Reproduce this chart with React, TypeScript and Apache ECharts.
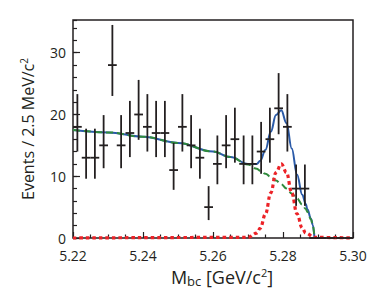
import React, { useEffect, useRef } from "react";
import * as echarts from "echarts";

// Bin centers (Mbc, GeV/c^2), bin width 2.5 MeV
const binCenters = [
  5.22125, 5.22375, 5.22625, 5.22875, 5.23125, 5.23375, 5.23625, 5.23875,
  5.24125, 5.24375, 5.24625, 5.24875, 5.25125, 5.25375, 5.25625, 5.25875,
  5.26125, 5.26375, 5.26625, 5.26875, 5.27125, 5.27375, 5.27625, 5.27875,
  5.28125, 5.28375, 5.28625, 5.28875, 5.29125, 5.29375, 5.29625, 5.29875,
];
const counts = [
  18, 13, 13, 15, 28, 15, 17, 20, 18, 17, 17, 11, 18, 15, 13, 5,
  12, 15, 16, 12, 12, 14, 16, 21, 18, 8, 8, 0, 0, 0, 0, 0,
];
const errLow = [
  14.0, 9.6, 9.6, 11.3, 23.0, 11.3, 13.1, 15.9, 14.0, 13.1, 13.1, 7.8, 14.0, 11.3, 9.6, 2.9,
  8.7, 11.3, 12.2, 8.7, 8.7, 10.4, 12.2, 16.8, 14.0, 5.2, 5.2, 0, 0, 0, 0, 0,
];
const errHigh = [
  23.3, 17.7, 17.7, 19.9, 34.5, 19.9, 22.2, 25.6, 23.3, 22.2, 22.2, 15.4, 23.3, 19.9, 17.7, 8.4,
  16.6, 19.9, 21.1, 16.6, 16.6, 18.8, 21.1, 26.7, 23.3, 11.9, 11.9, 0, 0, 0, 0, 0,
];

// Fit curves, sampled at these Mbc values
const curveX = [
  5.22, 5.23, 5.24, 5.25, 5.26, 5.265, 5.27, 5.2725, 5.2735, 5.275, 5.2765,
  5.278, 5.2795, 5.281, 5.2825, 5.284, 5.2855, 5.2865, 5.287, 5.288, 5.2885, 5.289,
];
const totalFit = [
  17.5, 17.1, 16.4, 15.4, 14.0, 13.1, 12.0, 12.0, 12.5, 14.3, 17.2,
  19.9, 20.7, 18.6, 14.5, 10.3, 7.0, 5.5, 4.6, 3.1, 2.15, 0,
];
const backgroundFit = [
  17.5, 17.1, 16.4, 15.4, 14.0, 13.1, 11.9, 11.2, 10.9, 10.4, 9.9,
  9.3, 8.7, 8.0, 7.2, 6.4, 5.4, 4.7, 4.2, 3.0, 2.1, 0,
];
const signalX = [
  5.22, 5.27, 5.2725, 5.2735, 5.275, 5.2765, 5.278, 5.2795, 5.281, 5.2825,
  5.284, 5.2855, 5.2865, 5.289, 5.3,
];
const signalFit = [0, 0.1, 0.8, 1.6, 3.9, 7.3, 10.6, 12, 10.6, 7.3, 3.9, 1.6, 0.8, 0.1, 0];

const xTicks = [5.22, 5.3];
const yTicks = [0, 35.3];

export default function App() {
  const ref = useRef<HTMLDivElement>(null);
  useEffect(() => {
    if (!ref.current) return;
    const chart = echarts.init(ref.current, undefined, { renderer: "svg" });
    const font = "Open Sans";
    const ink = "#231f20";
    const halfBin = 0.00125;
    const pointData = binCenters.map((x, i) => [x, counts[i], errLow[i], errHigh[i]]);
    chart.setOption({
      animation: false,
      grid: {
        left: 73,
        right: 29,
        top: 20,
        bottom: 52,
        outerBoundsMode: "none",
        containLabel: false,
        show: true,
        borderColor: ink,
        borderWidth: 1.5,
        backgroundColor: "transparent",
      },
      xAxis: {
        type: "value",
        min: xTicks[0],
        max: xTicks[1],
        interval: 0.02,
        axisLine: { show: false },
        axisTick: { show: true, inside: true, length: 6, lineStyle: { color: ink, width: 1.2 } },
        minorTick: { show: true, splitNumber: 4, length: 3.5, lineStyle: { color: ink, width: 1.2 } },
        splitLine: { show: false },
        axisLabel: {
          margin: 10,
          fontFamily: font,
          fontSize: 14,
          lineHeight: 14,
          color: ink,
          formatter: (v: number) => v.toFixed(2),
        },
        name: "M{sub|bc} [GeV/c{sup|2}]",
        nameLocation: "middle",
        nameGap: 26,
        nameTextStyle: {
          fontFamily: font,
          fontSize: 18,
          color: ink,
          padding: [0, 0, 0, 18],
          rich: {
            sub: { fontFamily: font, fontSize: 13, color: ink, verticalAlign: "bottom", padding: [8, 0, 0, 0] },
            sup: { fontFamily: font, fontSize: 11, color: ink, verticalAlign: "top", padding: [0, 0, 8, 0] },
          },
        },
      },
      yAxis: [
        {
          type: "value",
          min: yTicks[0],
          max: yTicks[1],
          interval: 10,
          axisLine: { show: false },
          axisTick: { show: true, inside: true, length: 7, lineStyle: { color: ink, width: 1.2 } },
          splitLine: { show: false },
          axisLabel: {
            margin: 7,
            fontFamily: font,
            fontSize: 14,
            lineHeight: 12,
            color: ink,
            showMaxLabel: false,
            formatter: (v: number) => (v % 10 === 0 ? String(v) : ""),
          },
          name: "Events / 2.5 MeV/c{sup|2}",
          nameLocation: "middle",
          nameGap: 36,
          nameTextStyle: {
            fontFamily: font,
            fontSize: 16,
            color: ink,
            rich: {
              sup: { fontFamily: font, fontSize: 10, color: ink, verticalAlign: "top", padding: [0, 0, 8, 0] },
            },
          },
        },
        {
          type: "value",
          position: "left",
          min: yTicks[0],
          max: yTicks[1],
          interval: 2,
          axisLine: { show: false },
          axisTick: { show: true, inside: true, length: 4, lineStyle: { color: ink, width: 1.2 } },
          splitLine: { show: false },
          axisLabel: { show: false },
        },
      ],
      series: [
        {
          type: "line",
          name: "total",
          data: curveX.map((x, i) => [x, totalFit[i]]),
          showSymbol: false,
          smooth: 0.4,
          smoothMonotone: "x",
          clip: false,
          lineStyle: { color: "#2a5aa8", width: 2 },
          z: 3,
        },
        {
          type: "line",
          name: "background",
          data: curveX.map((x, i) => [x, backgroundFit[i]]),
          showSymbol: false,
          smooth: 0.4,
          smoothMonotone: "x",
          clip: false,
          lineStyle: { color: "#2f8a3c", width: 2, type: [7, 4] },
          z: 4,
        },
        {
          type: "line",
          name: "signal",
          data: signalX.map((x, i) => [x, signalFit[i]]),
          showSymbol: false,
          smooth: 0.4,
          smoothMonotone: "x",
          clip: false,
          lineStyle: { color: "#ec2227", width: 3.2, type: [3.5, 3] },
          z: 5,
        },
        {
          type: "custom",
          name: "data",
          data: pointData,
          clip: false,
          z: 6,
          renderItem: (params: any, api: any) => {
            const x = api.value(0);
            const y = api.value(1);
            const lo = api.value(2);
            const hi = api.value(3);
            const pL = api.coord([x - halfBin, y]);
            const pR = api.coord([x + halfBin, y]);
            const pLo = api.coord([x, lo]);
            const pHi = api.coord([x, hi]);
            const style = { stroke: ink, lineWidth: 1.8 };
            return {
              type: "group",
              children: [
                { type: "line", shape: { x1: pLo[0], y1: pLo[1], x2: pHi[0], y2: pHi[1] }, style },
                { type: "line", shape: { x1: pL[0], y1: pL[1], x2: pR[0], y2: pR[1] }, style },
              ],
            };
          },
        },
      ],
    });
    return () => chart.dispose();
  }, []);
  return <div ref={ref} style={{ width: 382, height: 290, marginLeft: -8, marginTop: -8 }} />;
}
